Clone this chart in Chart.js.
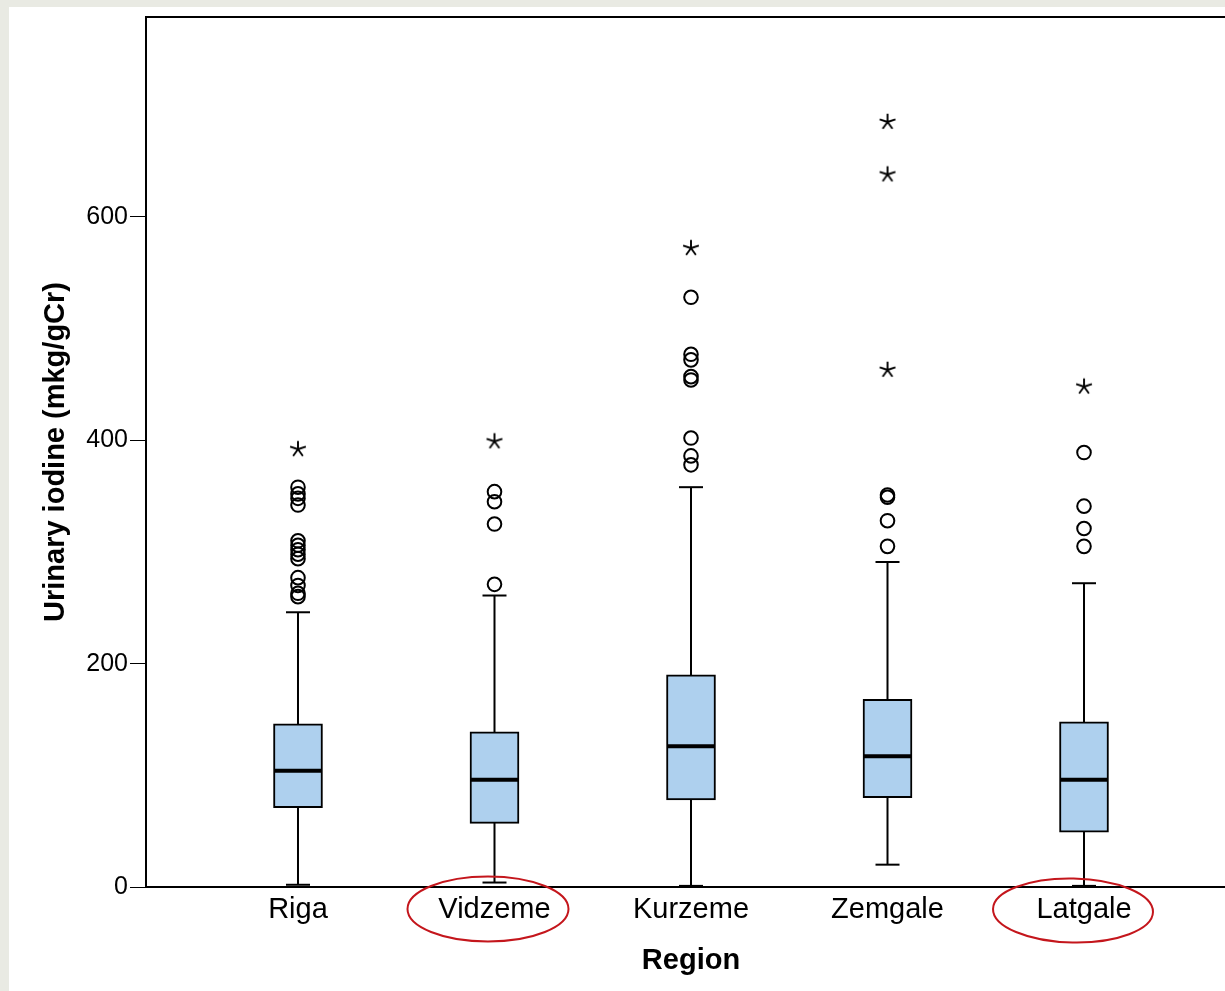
<!DOCTYPE html>
<html>
<head>
<meta charset="utf-8">
<title>Urinary iodine by region</title>
<script src="https://cdn.jsdelivr.net/npm/chart.js@4.4.0/dist/chart.umd.min.js"></script>
<style>
  html, body { margin: 0; padding: 0; overflow: hidden; width: 1225px; height: 991px; background: #e9eae3; }
  #panel { position: absolute; left: 9px; top: 7px; right: 0; bottom: 0; background: #fff; }
  #wrap { position: absolute; left: 0; top: 0; width: 1260px; height: 991px; }
</style>
</head>
<body>
<div id="panel"></div>
<div id="wrap"><canvas id="boxChart"></canvas></div>
<script>
const regions = ['Riga', 'Vidzeme', 'Kurzeme', 'Zemgale', 'Latgale'];

// box plot summary per region
const whiskerLow  = [2, 4, 1, 20, 1];
const q1          = [71, 57, 78, 80, 49];
const median      = [104, 96, 126, 117, 96];
const q3          = [146, 139, 190, 168, 148];
const whiskerHigh = [246, 261, 358, 291, 272];

// outliers (circles) and extremes (stars)
const outliers = [
  [358, 352, 348, 342, 310, 306, 302, 298, 294, 277, 270, 263, 260],
  [354, 345, 325, 271],
  [528, 477, 472, 457, 454, 402, 386, 378],
  [351, 349, 328, 305],
  [389, 341, 321, 305]
];
const extremes = [
  [392],
  [399],
  [572],
  [685, 638, 463],
  [448]
];

const yTicks = [0, 200, 400, 600];

const fontFamily = "'Liberation Sans', Arial, sans-serif";

function makeStar() {
  const c = document.createElement('canvas');
  c.width = 22;
  c.height = 22;
  const g = c.getContext('2d');
  g.strokeStyle = '#000';
  g.lineWidth = 1.9;
  for (let k = 0; k < 5; k++) {
    const a = -Math.PI / 2 + k * 2 * Math.PI / 5;
    g.beginPath();
    g.moveTo(11, 11);
    g.lineTo(11 + 8.3 * Math.cos(a), 11 + 8.3 * Math.sin(a));
    g.stroke();
  }
  return c;
}

const boxData = regions.map((r, i) => ({ x: i + 1, y: [q1[i], q3[i]] }));
const circlePoints = [];
const starPoints = [];
outliers.forEach((list, i) => list.forEach(v => circlePoints.push({ x: i + 1, y: v })));
extremes.forEach((list, i) => list.forEach(v => starPoints.push({ x: i + 1, y: v })));

// whiskers, caps, medians, frame and the red marks round two labels
const boxParts = {
  id: 'boxParts',
  beforeDatasetsDraw(chart) {
    const { ctx, scales: { x, y } } = chart;
    ctx.save();
    ctx.strokeStyle = '#000';
    ctx.lineWidth = 2;
    regions.forEach((r, i) => {
      const cx = x.getPixelForValue(i + 1);
      ctx.beginPath();
      ctx.moveTo(cx, y.getPixelForValue(whiskerLow[i]));
      ctx.lineTo(cx, y.getPixelForValue(whiskerHigh[i]));
      ctx.stroke();
      [whiskerLow[i], whiskerHigh[i]].forEach(v => {
        const py = y.getPixelForValue(v);
        ctx.beginPath();
        ctx.moveTo(cx - 12, py);
        ctx.lineTo(cx + 12, py);
        ctx.stroke();
      });
    });
    ctx.restore();
  },
  afterDatasetsDraw(chart) {
    const { ctx, scales: { x, y } } = chart;
    ctx.save();
    ctx.strokeStyle = '#000';
    ctx.lineWidth = 4;
    regions.forEach((r, i) => {
      const cx = x.getPixelForValue(i + 1);
      const py = y.getPixelForValue(median[i]);
      ctx.beginPath();
      ctx.moveTo(cx - 24, py);
      ctx.lineTo(cx + 24, py);
      ctx.stroke();
    });
    ctx.restore();
  },
  afterDraw(chart) {
    const { ctx, chartArea, scales: { x } } = chart;
    ctx.save();
    ctx.strokeStyle = '#000';
    ctx.lineWidth = 2;
    ctx.beginPath();
    ctx.moveTo(chartArea.left - 1, chartArea.top);
    ctx.lineTo(chartArea.right, chartArea.top);
    ctx.lineTo(chartArea.right, chartArea.bottom);
    ctx.stroke();

    ctx.strokeStyle = '#c4161c';
    ctx.lineWidth = 2;
    ctx.beginPath();
    ctx.ellipse(x.getPixelForValue(2) - 6.5, 909, 80.5, 32.5, 0, 0, Math.PI * 2);
    ctx.stroke();
    ctx.beginPath();
    ctx.ellipse(x.getPixelForValue(5) - 11, 910.5, 80, 32, 0.02, 0, Math.PI * 2);
    ctx.stroke();
    ctx.restore();
  }
};

new Chart(document.getElementById('boxChart'), {
  type: 'bar',
  data: {
    datasets: [
      {
        type: 'bar',
        data: boxData,
        backgroundColor: '#aed0ee',
        borderColor: '#000',
        borderWidth: 2,
        borderSkipped: false,
        barThickness: 49
      },
      {
        type: 'scatter',
        data: circlePoints,
        pointStyle: 'circle',
        pointRadius: 6.8,
        borderWidth: 2,
        borderColor: '#000',
        backgroundColor: 'rgba(0,0,0,0)'
      },
      {
        type: 'scatter',
        data: starPoints,
        pointStyle: makeStar(),
        pointRadius: 9
      }
    ]
  },
  options: {
    responsive: true,
    maintainAspectRatio: false,
    animation: false,
    layout: { padding: { top: 16, left: 0, right: 24, bottom: 0 } },
    plugins: {
      legend: { display: false },
      tooltip: { enabled: false }
    },
    scales: {
      x: {
        type: 'linear',
        min: 0.2265,
        max: 5.7735,
        offset: false,
        afterBuildTicks: s => { s.ticks = regions.map((r, i) => ({ value: i + 1 })); },
        afterFit: s => { s.height = 104; },
        ticks: {
          autoSkip: false,
          maxRotation: 0,
          color: '#000',
          font: { family: fontFamily, size: 29 },
          padding: 6,
          callback: v => regions[Math.round(v) - 1]
        },
        grid: { display: false, drawTicks: false, offset: false },
        border: { display: true, color: '#000', width: 2 },
        title: {
          display: true,
          text: 'Region',
          color: '#000',
          font: { family: fontFamily, size: 29, weight: 'bold' },
          padding: { top: 0, bottom: 13 }
        }
      },
      y: {
        min: 0,
        max: 779,
        afterBuildTicks: s => { s.ticks = yTicks.map(v => ({ value: v })); },
        afterFit: s => { s.width = 146; },
        ticks: {
          color: '#000',
          font: { family: fontFamily, size: 25 },
          padding: 2
        },
        grid: { drawOnChartArea: false, drawTicks: true, tickLength: 16, color: '#000', lineWidth: 1 },
        border: { display: true, color: '#000', width: 2 },
        title: {
          display: true,
          text: 'Urinary iodine (mkg/gCr)',
          color: '#000',
          font: { family: fontFamily, size: 29, weight: 'bold' },
          padding: { top: 39, bottom: 0 }
        }
      }
    }
  },
  plugins: [boxParts]
});
</script>
</body>
</html>
